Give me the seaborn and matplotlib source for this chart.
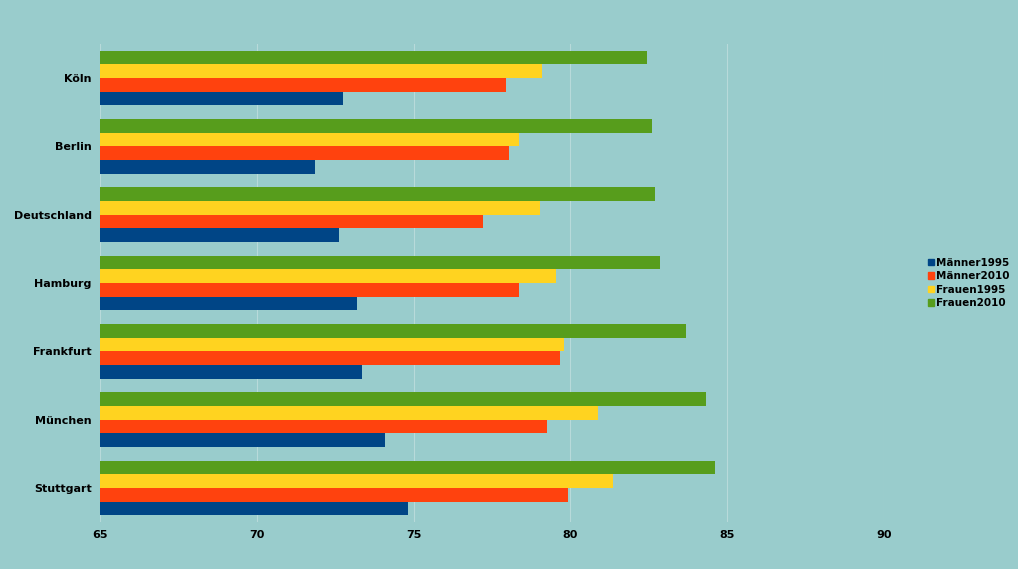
import pandas as pd
import matplotlib.pyplot as plt
import seaborn as sns
from matplotlib.patches import Patch

cities = ["Köln", "Berlin", "Deutschland", "Hamburg", "Frankfurt", "München", "Stuttgart"]
maenner1995 = [72.75, 71.86, 72.62, 73.2, 73.35, 74.09, 74.82]
maenner2010 = [77.95, 78.04, 77.21, 78.36, 79.67, 79.25, 79.92]
frauen1995 = [79.09, 78.36, 79.03, 79.54, 79.8, 80.88, 81.36]
frauen2010 = [82.44, 82.6, 82.7, 82.86, 83.69, 84.32, 84.61]

series = {"Männer1995": maenner1995, "Männer2010": maenner2010,
          "Frauen1995": frauen1995, "Frauen2010": frauen2010}
colors = {"Männer1995": "#004586", "Männer2010": "#ff420e",
          "Frauen1995": "#ffd320", "Frauen2010": "#579d1c"}

rows = []
for name, vals in series.items():
    for c, v in zip(cities, vals):
        rows.append({"Stadt": c, "Serie": name, "Wert": v})
df = pd.DataFrame(rows)

bg = "#99cccc"
fig = plt.figure(figsize=(10.18, 5.69), dpi=100, facecolor=bg)
ax = fig.add_axes([100 / 1018, 1 - 522 / 569, 784 / 1018, 478 / 569])
ax.set_facecolor(bg)

hue_order = ["Frauen2010", "Frauen1995", "Männer2010", "Männer1995"]
sns.barplot(data=df, y="Stadt", x="Wert", hue="Serie", hue_order=hue_order,
            order=cities, palette=colors, orient="h", width=0.8, saturation=1,
            legend=False, ax=ax)

ax.set_xlim(65, 90)
ax.set_xticks([65, 70, 75, 80, 85, 90])
ax.grid(axis="x", color="#b8dada", linewidth=0.8)
ax.set_axisbelow(True)
for s in ax.spines.values():
    s.set_visible(False)
ax.tick_params(length=0, labelsize=8, pad=6)
for lbl in ax.get_xticklabels() + ax.get_yticklabels():
    lbl.set_fontweight("bold")
ax.set_xlabel("")
ax.set_ylabel("")

handles = [Patch(color=colors[n], label=n) for n in series]
fig.legend(handles=handles, loc="center left", bbox_to_anchor=(928 / 1018, 1 - 283 / 569),
           frameon=False, prop={"weight": "bold", "size": 7.5},
           handlelength=0.6, handleheight=0.6, handletextpad=0.2, labelspacing=0.35,
           borderpad=0, borderaxespad=0)

fig.savefig("out.png", dpi=100, facecolor=bg)
